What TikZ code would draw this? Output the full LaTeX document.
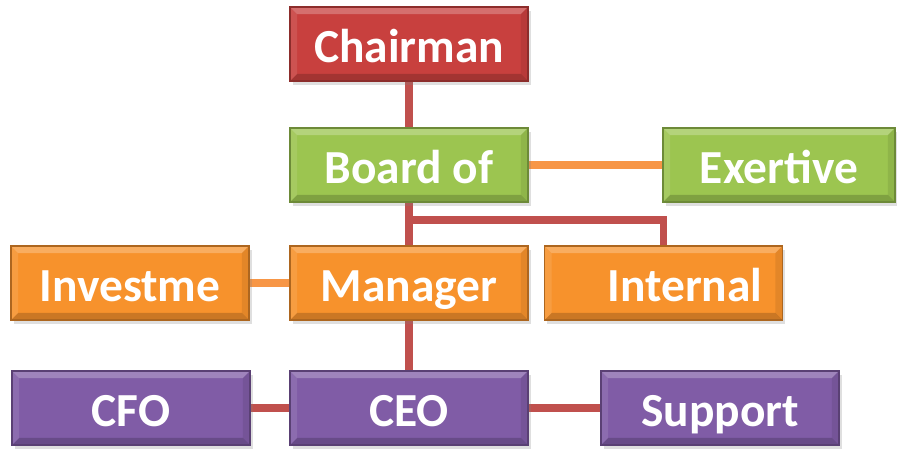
\documentclass[tikz,border=0pt]{standalone}
\usepackage{fontspec}
\setmainfont{Carlito}
\usetikzlibrary{positioning,shadows,backgrounds}

\definecolor{chairred}{RGB}{200,64,62}
\definecolor{boardgreen}{RGB}{156,197,80}
\definecolor{midorange}{RGB}{247,146,44}
\definecolor{lowpurple}{RGB}{128,92,166}
\definecolor{linkred}{RGB}{192,80,77}
\definecolor{linkorange}{RGB}{247,150,70}

\begin{document}
\begin{tikzpicture}[x=0.02cm, y=-0.02cm,
    box/.style={rectangle, minimum width=4.76cm, minimum height=1.48cm,
        text=white, font=\fontsize{27}{31}\selectfont\bfseries,
        inner ysep=0pt, text height=26pt, text depth=5.5pt,
        line width=0.8pt,
        drop shadow={opacity=0.25, shadow xshift=1.5pt, shadow yshift=-2pt},
        path picture={
            \fill[white, opacity=0.25]
                (path picture bounding box.north west)
                -- (path picture bounding box.north east)
                -- ([xshift=-4pt, yshift=-4pt]path picture bounding box.north east)
                -- ([xshift=4pt, yshift=-4pt]path picture bounding box.north west)
                -- cycle;
            \fill[black, opacity=0.18]
                (path picture bounding box.south west)
                -- (path picture bounding box.south east)
                -- ([xshift=-4pt, yshift=4pt]path picture bounding box.south east)
                -- ([xshift=4pt, yshift=4pt]path picture bounding box.south west)
                -- cycle;
            \fill[black, opacity=0.08]
                (path picture bounding box.north east)
                -- (path picture bounding box.south east)
                -- ([xshift=-4pt, yshift=4pt]path picture bounding box.south east)
                -- ([xshift=-4pt, yshift=-4pt]path picture bounding box.north east)
                -- cycle;
            \fill[white, opacity=0.1]
                (path picture bounding box.north west)
                -- (path picture bounding box.south west)
                -- ([xshift=4pt, yshift=4pt]path picture bounding box.south west)
                -- ([xshift=4pt, yshift=-4pt]path picture bounding box.north west)
                -- cycle;
        }},
    redbox/.style={box, fill=chairred, draw=chairred!70!black},
    greenbox/.style={box, fill=boardgreen, draw=boardgreen!70!black},
    orangebox/.style={box, fill=midorange, draw=midorange!70!black},
    purplebox/.style={box, fill=lowpurple, draw=lowpurple!70!black},
    redlink/.style={draw=linkred, line width=4pt},
    orangelink/.style={draw=linkorange, line width=4pt}
    ]

    \useasboundingbox (0,0) rectangle (897,449);

    % top level
    \node[redbox] (chairman) at (409,44) {Chairman};

    % second level
    \node[greenbox] (board) at (409,165) {Board of};
    \node[greenbox, minimum width=4.64cm] (exertive) at (779,165) {Exertive};

    % third level
    \node[orangebox] (invest) at (130,283) {Investme};
    \node[orangebox] (manager) at (409,283) {Manager};
    \node[orangebox, inner xsep=0.4cm, text width=3.96cm, align=right]
        (internal) at (663.5,283) {Internal};

    % bottom level
    \node[purplebox] (cfo) at (131,408) {CFO};
    \node[purplebox] (ceo) at (409,408) {CEO};
    \node[purplebox] (support) at (720,408) {Support};

    % connectors, under the boxes
    \begin{scope}[on background layer]
        \coordinate (split) at (409,220);
        \draw[redlink] (chairman) -- (board) -- (manager) -- (ceo);
        \draw[redlink] (split) -| (internal);
        \draw[orangelink] (board) -- (exertive);
        \draw[orangelink] (invest) -- (manager);
        \draw[redlink] (cfo) -- (ceo) -- (support);
    \end{scope}

\end{tikzpicture}
\end{document}
